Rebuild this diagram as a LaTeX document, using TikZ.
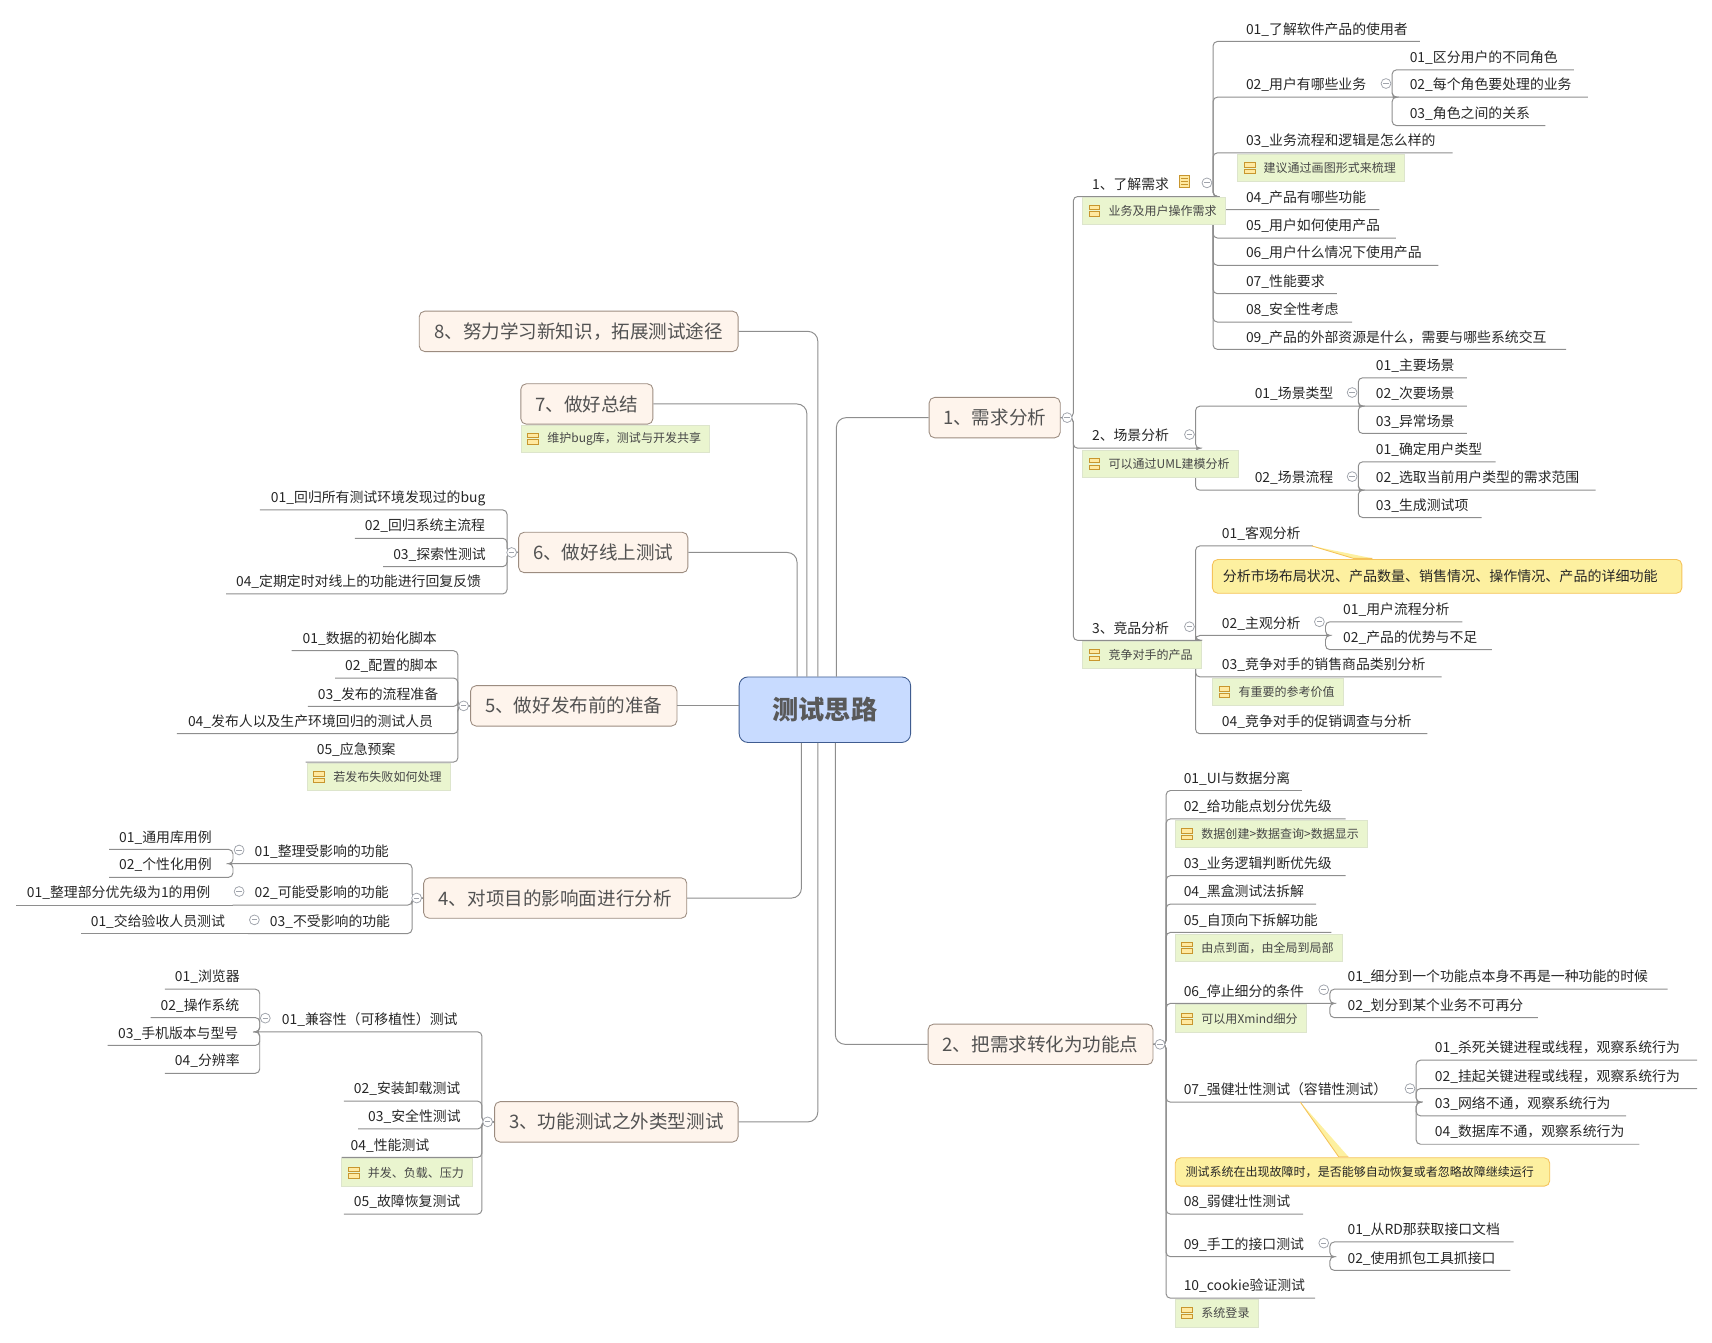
\documentclass[tikz,border=0pt]{standalone}
\usepackage{fontspec}
\setmainfont{Noto Sans CJK SC}
\usetikzlibrary{positioning}

\definecolor{linegray}{HTML}{8E8E8E}
\definecolor{foldgray}{HTML}{A0A4AC}
\definecolor{rootfill}{HTML}{C8DBFF}
\definecolor{rootline}{HTML}{3F5C90}
\definecolor{topicfill}{HTML}{FEF4EC}
\definecolor{topicline}{HTML}{9C8C80}
\definecolor{notefill}{HTML}{EAF5CF}
\definecolor{noteline}{HTML}{DDE5CC}
\definecolor{markline}{HTML}{C8962E}
\definecolor{markfill}{HTML}{FFE9A0}
\definecolor{callfill}{HTML}{FDF0A0}
\definecolor{callline}{HTML}{F5C35A}

\tikzset{
  root/.style={draw=rootline,fill=rootfill,line width=.8pt,rounded corners=8pt,minimum width=157pt,minimum height=60pt,font=\fontsize{24}{28}\selectfont\bfseries,text=black!65},
  topic/.style={draw=topicline,fill=topicfill,line width=.8pt,rounded corners=5pt,minimum height=37pt,inner sep=0pt,font=\fontsize{17}{20}\selectfont,text=black!68},
  leaf/.style 2 args={anchor=south west,inner xsep=0pt,inner ysep=3.5pt,text width=#1pt,text height=9pt,text depth=3pt,align=left,execute at begin node={\hspace*{#2pt}},font=\fontsize{12.7}{15}\selectfont,text=black!85},
  link/.style={draw=linegray,line width=.9pt,rounded corners=4pt},
  trunk/.style={draw=linegray,line width=.9pt,rounded corners=9pt},
  fold/.style={circle,draw=foldgray,fill=white,line width=.7pt,inner sep=0pt,minimum size=9pt,path picture={\draw[foldgray,line width=.7pt] ([xshift=2pt]path picture bounding box.west) -- ([xshift=-2pt]path picture bounding box.east);}},
  note/.style={anchor=north west,draw=noteline,fill=notefill,line width=.8pt,minimum height=25pt,inner xsep=8pt,inner ysep=0pt,execute at begin node={\hspace*{16pt}},font=\fontsize{11}{13}\selectfont,text=black!72,
    path picture={
      \draw[markline,fill=markfill,line width=.8pt] ([xshift=6pt,yshift=1pt]path picture bounding box.west) rectangle ++(10pt,4pt);
      \draw[markline,fill=markfill,line width=.8pt] ([xshift=6pt,yshift=-1pt]path picture bounding box.west) rectangle ++(10pt,-4pt);}},
  callout/.style 2 args={anchor=north west,draw=callline,fill=callfill,line width=.8pt,rounded corners=5pt,inner sep=0pt,text width=#2pt,align=left,execute at begin node={\hspace*{9.5pt}},font=\fontsize{#1}{15}\selectfont,text=black!85},
  pointer/.style={draw=callline,fill=callfill,line width=.8pt},
  memo/.style={draw=markline,fill=markfill,line width=.8pt,minimum width=9.5pt,minimum height=11pt,inner sep=0pt},
}

\begin{document}
\begin{tikzpicture}[x=1pt,y=-1pt]
\useasboundingbox (0,0) rectangle (1568,1230);

\node[root] (root) at (755.5,650) {测试思路};
\node[topic,minimum width=120pt] (t1) at (911,382.5) {1、需求分析};
\node[topic,minimum width=206pt] (t2) at (953,956.5) {2、把需求转化为功能点};
\node[topic,minimum width=223pt] (t3) at (564.5,1027.5) {3、功能测试之外类型测试};
\node[topic,minimum width=241pt] (t4) at (508.5,822.5) {4、对项目的影响面进行分析};
\node[topic,minimum width=189pt] (t5) at (525.5,646.5) {5、做好发布前的准备};
\node[topic,minimum width=155pt] (t6) at (552.5,506) {6、做好线上测试};
\node[topic,minimum width=121pt] (t7) at (537.5,370) {7、做好总结};
\node[topic,minimum width=292pt] (t8) at (530,303.5) {8、努力学习新知识，拓展测试途径};

% 1 xuqiu fenxi
\node[leaf={128}{17}] (a) at (983,180) {1、了解需求};
\node[leaf={189}{30}] (a1) at (1111,38) {01\_了解软件产品的使用者};
\node[leaf={164}{30}] (a2) at (1111,89) {02\_用户有哪些业务};
\node[leaf={166}{16}] (a21) at (1275,64) {01\_区分用户的不同角色};
\node[leaf={179}{16}] (a22) at (1275,89) {02\_每个角色要处理的业务};
\node[leaf={140}{16}] (a23) at (1275,115) {03\_角色之间的关系};
\node[leaf={219}{30}] (a3) at (1111,140) {03\_业务流程和逻辑是怎么样的};
\node[leaf={152}{30}] (a4) at (1111,192) {04\_产品有哪些功能};
\node[leaf={167}{30}] (a5) at (1111,218) {05\_用户如何使用产品};
\node[leaf={206}{30}] (a6) at (1111,243) {06\_用户什么情况下使用产品};
\node[leaf={113}{30}] (a7) at (1111,269) {07\_性能要求};
\node[leaf={127}{30}] (a8) at (1111,295) {08\_安全性考虑};
\node[leaf={323}{30}] (a9) at (1111,320) {09\_产品的外部资源是什么，需要与哪些系统交互};

\node[leaf={112}{17}] (b) at (983,410.5) {2、场景分析};
\node[leaf={149}{54}] (b1) at (1095,372) {01\_场景类型};
\node[leaf={99}{16}] (b11) at (1244,346) {01\_主要场景};
\node[leaf={99}{16}] (b12) at (1244,372) {02\_次要场景};
\node[leaf={99}{16}] (b13) at (1244,397) {03\_异常场景};
\node[leaf={149}{54}] (b2) at (1095,449) {02\_场景流程};
\node[leaf={125.5}{16}] (b21) at (1244,423) {01\_确定用户类型};
\node[leaf={217}{16}] (b22) at (1244,449) {02\_选取当前用户类型的需求范围};
\node[leaf={112.5}{16}] (b23) at (1244,474) {03\_生成测试项};

\node[leaf={112}{17}] (c) at (983,586.5) {3、竞品分析};
\node[leaf={107}{24}] (c1) at (1095,500) {01\_客观分析};
\node[leaf={119}{24}] (c2) at (1095,582) {02\_主观分析};
\node[leaf={125}{16}] (c21) at (1214,569.5) {01\_用户流程分析};
\node[leaf={152}{16}] (c22) at (1214,595) {02\_产品的优势与不足};
\node[leaf={225}{24}] (c3) at (1095,620) {03\_竞争对手的销售商品类别分析};
\node[leaf={212}{24}] (c4) at (1095,672) {04\_竞争对手的促销调查与分析};

% 2 gongnengdian
\node[leaf={124}{16}] (d1) at (1068,724) {01\_UI与数据分离};
\node[leaf={164}{16}] (d2) at (1068,750) {02\_给功能点划分优先级};
\node[leaf={164}{16}] (d3) at (1068,802) {03\_业务逻辑判断优先级};
\node[leaf={137}{16}] (d4) at (1068,828) {04\_黑盒测试法拆解};
\node[leaf={151}{16}] (d5) at (1068,854) {05\_自顶向下拆解功能};
\node[leaf={150}{16}] (d6) at (1068,919) {06\_停止细分的条件};
\node[leaf={309}{16}] (d61) at (1218,906) {01\_细分到一个功能点本身不再是一种功能的时候};
\node[leaf={190}{16}] (d62) at (1218,932) {02\_划分到某个业务不可再分};
\node[leaf={229}{16}] (d7) at (1068,1009.5) {07\_强健壮性测试（容错性测试）};
\node[leaf={257}{17}] (d71) at (1297,971) {01\_杀死关键进程或线程，观察系统行为};
\node[leaf={257}{17}] (d72) at (1297,997) {02\_挂起关键进程或线程，观察系统行为};
\node[leaf={192}{17}] (d73) at (1297,1022) {03\_网络不通，观察系统行为};
\node[leaf={204}{17}] (d74) at (1297,1048) {04\_数据库不通，观察系统行为};
\node[leaf={125}{16}] (d8) at (1068,1112) {08\_弱健壮性测试};
\node[leaf={150}{16}] (d9) at (1068,1151) {09\_手工的接口测试};
\node[leaf={168}{16}] (d91) at (1218,1137.5) {01\_从RD那获取接口文档};
\node[leaf={165}{16}] (d92) at (1218,1163.5) {02\_使用抓包工具抓接口};
\node[leaf={136}{16}] (d10) at (1068,1189) {10\_cookie验证测试};

% 3 gongneng zhiwai
\node[leaf={204}{21}] (e1) at (237,945) {01\_兼容性（可移植性）测试};
\node[leaf={86.5}{9}] (e11) at (151,906) {01\_浏览器};
\node[leaf={99.5}{9}] (e12) at (138,932) {02\_操作系统};
\node[leaf={139}{9.5}] (e13) at (98.5,957.5) {03\_手机版本与型号};
\node[leaf={86.5}{9}] (e14) at (151,983) {04\_分辨率};
\node[leaf={126}{9}] (e2) at (315,1008.5) {02\_安装卸载测试};
\node[leaf={113}{9}] (e3) at (328,1034) {03\_安全性测试};
\node[leaf={128}{8}] (e4) at (313,1060) {04\_性能测试};
\node[leaf={126}{9}] (e5) at (315,1112) {05\_故障恢复测试};

% 4 yingxiangmian
\node[leaf={164}{20}] (f1) at (213,791) {01\_整理受影响的功能};
\node[leaf={113}{9}] (f11) at (100,778) {01\_通用库用例};
\node[leaf={113}{9}] (f12) at (100,803.5) {02\_个性化用例};
\node[leaf={164}{20}] (f2) at (213,829) {02\_可能受影响的功能};
\node[leaf={198.5}{10}] (f21) at (14.5,829) {01\_整理部分优先级为1的用例};
\node[leaf={150}{20}] (f3) at (227,855) {03\_不受影响的功能};
\node[leaf={153}{9}] (f31) at (74,855) {01\_交给验收人员测试};

% 5 fabu qian
\node[leaf={152}{10}] (g1) at (267,596) {01\_数据的初始化脚本};
\node[leaf={112}{9}] (g2) at (307,621) {02\_配置的脚本};
\node[leaf={137}{9}] (g3) at (282,647) {03\_发布的流程准备};
\node[leaf={257}{10}] (g4) at (162,672) {04\_发布人以及生产环境回归的测试人员};
\node[leaf={139}{10}] (g5) at (280,698) {05\_应急预案};

% 6 xianshang
\node[leaf={226}{10}] (h1) at (238,467) {01\_回归所有测试环境发现过的bug};
\node[leaf={139}{9}] (h2) at (325,493) {02\_回归系统主流程};
\node[leaf={113}{9}] (h3) at (351,519) {03\_探索性测试};
\node[leaf={257}{9}] (h4) at (207,544) {04\_定期定时对线上的功能进行回复反馈};

% root to topics
\draw[trunk] (t1.west) -| ([xshift=10.5pt]root.north);
\draw[trunk] (t2.west) -| ([xshift=9.5pt]root.south);
\draw[trunk] (t3.east) -| ([xshift=-6.5pt]root.south);
\draw[trunk] (t4.east) -| ([xshift=-21.5pt]root.south);
\draw[trunk] (t5.east) -- (t5.east -| root.west);
\draw[trunk] (t6.east) -| ([xshift=-25.5pt]root.north);
\draw[trunk] (t7.east) -| ([xshift=-16.5pt]root.north);
\draw[trunk] (t8.east) -| ([xshift=-6.5pt]root.north);

% branches on the right
\foreach \c in {a,b,c} \draw[link] (t1.east) -| (\c.south west) -- (\c.south east);
\foreach \c in {a1,a2,a3,a4,a5,a6,a7,a8,a9} \draw[link] (a.south east) -| (\c.south west) -- (\c.south east);
\foreach \c in {a21,a22,a23} \draw[link] (a2.south east) -| (\c.south west) -- (\c.south east);
\foreach \c in {b1,b2} \draw[link] (b.south east) -| (\c.south west) -- (\c.south east);
\foreach \c in {b11,b12,b13} \draw[link] (b1.south east) -| (\c.south west) -- (\c.south east);
\foreach \c in {b21,b22,b23} \draw[link] (b2.south east) -| (\c.south west) -- (\c.south east);
\foreach \c in {c1,c2,c3,c4} \draw[link] (c.south east) -| (\c.south west) -- (\c.south east);
\foreach \c in {c21,c22} \draw[link] (c2.south east) -| (\c.south west) -- (\c.south east);
\foreach \c in {d1,d2,d3,d4,d5,d6,d7,d8,d9,d10} \draw[link] (t2.east) -| (\c.south west) -- (\c.south east);
\foreach \c in {d61,d62} \draw[link] (d6.south east) -| (\c.south west) -- (\c.south east);
\foreach \c in {d71,d72,d73,d74} \draw[link] (d7.south east) -| (\c.south west) -- (\c.south east);
\foreach \c in {d91,d92} \draw[link] (d9.south east) -| (\c.south west) -- (\c.south east);

% branches on the left
\foreach \c in {e1,e2,e3,e4,e5} \draw[link] (t3.west) -| (\c.south east) -- (\c.south west);
\foreach \c in {e11,e12,e13,e14} \draw[link] (e1.south west) -| (\c.south east) -- (\c.south west);
\foreach \c in {f1,f2,f3} \draw[link] (t4.west) -| (\c.south east) -- (\c.south west);
\foreach \c in {f11,f12} \draw[link] (f1.south west) -| (\c.south east) -- (\c.south west);
\draw[link] (f2.south west) -- (f21.south west);
\draw[link] (f3.south west) -- (f31.south west);
\foreach \c in {g1,g2,g3,g4,g5} \draw[link] (t5.west) -| (\c.south east) -- (\c.south west);
\foreach \c in {h1,h2,h3,h4} \draw[link] (t6.west) -| (\c.south east) -- (\c.south west);

% folds
\foreach \n in {t1,t2} \node[fold] (fold\n) at ([xshift=6pt]\n.east) {};
\foreach \n in {t3,t4,t5,t6} \node[fold] (fold\n) at ([xshift=-6pt]\n.west) {};
\foreach \n in {a,a2,b,b1,b2,c,c2,d6,d7,d9} \node[fold] (fold\n) at ([xshift=-6pt,yshift=12.5pt]\n.south east) {};
\foreach \n in {e1,f1,f2,f3} \node[fold] (fold\n) at ([xshift=6pt,yshift=12.5pt]\n.south west) {};

% notes
\node[note] (na) at (991,180) {业务及用户操作需求};
\node[note] (na3) at (1133,141) {建议通过画图形式来梳理};
\node[note] (nb) at (991,412) {可以通过UML建模分析};
\node[note] (nc) at (991,587) {竞争对手的产品};
\node[note] (nc3) at (1110,621) {有重要的参考价值};
\node[note] (nd2) at (1076,751) {数据创建>数据查询>数据显示};
\node[note] (nd5) at (1076,855) {由点到面，由全局到局部};
\node[note] (nd6) at (1076,920) {可以用Xmind细分};
\node[note] (nd10) at (1076,1190) {系统登录};
\node[note] (ne4) at (312.5,1061) {并发、负载、压力};
\node[note] (ng5) at (281,699) {若发布失败如何处理};
\node[note] (nt7) at (477,389) {维护bug库，测试与开发共享};

% memo mark
\node[memo] (memoa) at (1085,166) {};
\foreach \k in {-2.5,0,2.5} \draw[markline,line width=.6pt] ([xshift=-3pt,yshift=\k pt]memoa.center) -- ([xshift=3pt,yshift=\k pt]memoa.center);

% callouts
\node[callout={12.85}{430},minimum height=31pt] (cc1) at (1110,512) {分析市场布局状况、产品数量、销售情况、操作情况、产品的详细功能};
\draw[pointer] ([xshift=106.5pt]c1.south west) -- ([xshift=129.5pt,yshift=.6pt]cc1.north west) -- ([xshift=147pt,yshift=.6pt]cc1.north west);
\node[callout={11}{343},minimum height=26pt] (cd7) at (1076,1060) {测试系统在出现故障时，是否能够自动恢复或者忽略故障继续运行};
\draw[pointer] ([xshift=123pt]d7.south west) -- ([xshift=150pt,yshift=.6pt]cd7.north west) -- ([xshift=159pt,yshift=.6pt]cd7.north west);
\end{tikzpicture}
\end{document}
